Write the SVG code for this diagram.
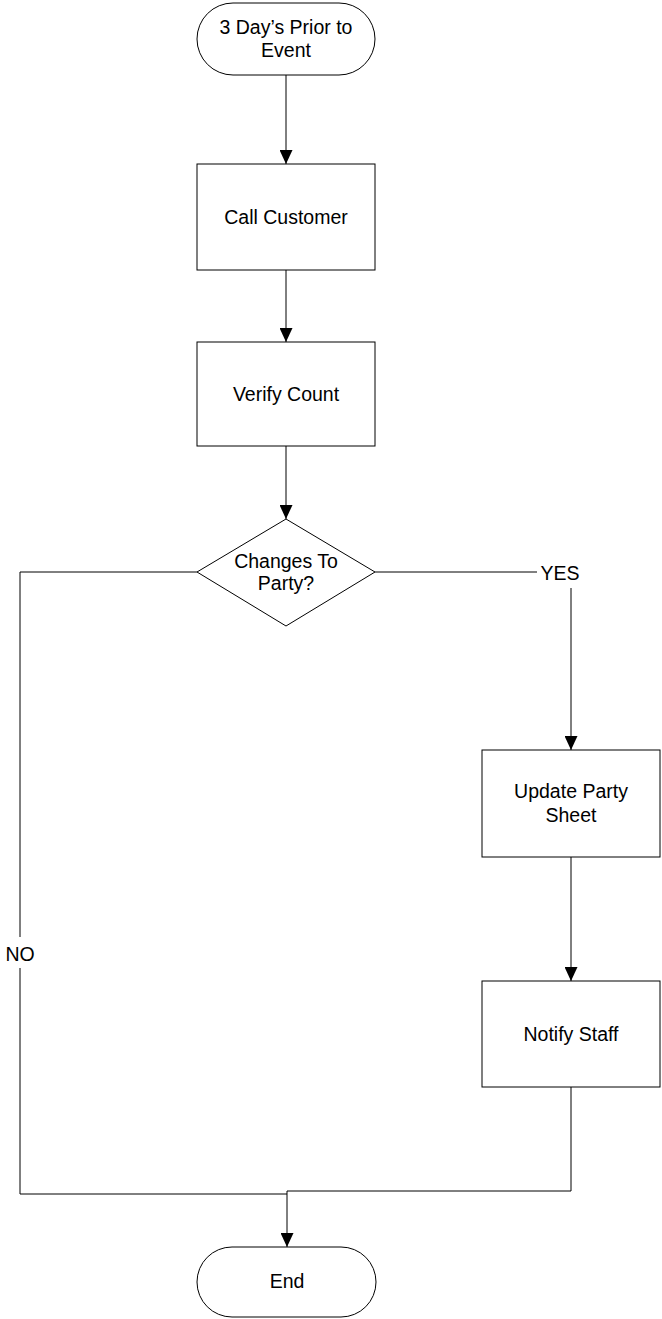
<svg xmlns="http://www.w3.org/2000/svg" width="662" height="1319" viewBox="0 0 662 1319">
  <style>
    .shape { fill: #ffffff; stroke: #000000; stroke-width: 1; }
    .label { font-family: "Liberation Sans", Arial, sans-serif; font-size: 19.5px; fill: #000000; text-anchor: middle; }
    .edge { fill: none; stroke: #000000; stroke-width: 1; }
  </style>
  <defs>
    <marker id="arrow" markerWidth="14" markerHeight="13" refX="14" refY="6.5" orient="auto" markerUnits="userSpaceOnUse" viewBox="0 0 14 13">
      <path d="M0,0 L14,6.5 L0,13 Z" fill="#000000"/>
    </marker>
  </defs>

  <!-- connectors -->
  <g id="connectors">
    <line class="edge" x1="286" y1="75" x2="286" y2="164" marker-end="url(#arrow)"/>
    <line class="edge" x1="286" y1="270" x2="286" y2="342" marker-end="url(#arrow)"/>
    <line class="edge" x1="286" y1="446" x2="286" y2="519" marker-end="url(#arrow)"/>
    <!-- YES branch -->
    <polyline class="edge" points="375,572 537,572"/>
    <line class="edge" x1="571" y1="588" x2="571" y2="750" marker-end="url(#arrow)"/>
    <line class="edge" x1="571" y1="857" x2="571" y2="981" marker-end="url(#arrow)"/>
    <polyline class="edge" points="571,1087 571,1191 287,1191"/>
    <!-- NO branch -->
    <polyline class="edge" points="197,572 20,572 20,1194 287,1194"/>
    <line class="edge" x1="287" y1="1191" x2="287" y2="1247" marker-end="url(#arrow)"/>
    <rect x="3" y="937" width="34" height="31" fill="#ffffff"/>
    <text class="label" x="20" y="961">NO</text>
    <text class="label" x="560" y="580">YES</text>
  </g>

  <g id="start">
    <rect class="shape" x="197" y="3" width="178" height="72" rx="36" ry="36"/>
    <text class="label" x="286" y="34">3 Day’s Prior to</text>
    <text class="label" x="286" y="57">Event</text>
  </g>

  <g id="call-customer">
    <rect class="shape" x="197" y="164" width="178" height="106"/>
    <text class="label" x="286" y="224">Call Customer</text>
  </g>

  <g id="verify-count">
    <rect class="shape" x="197" y="342" width="178" height="104"/>
    <text class="label" x="286" y="401">Verify Count</text>
  </g>

  <g id="changes-decision">
    <polygon class="shape" points="286,519 375,572 286,626 197,572"/>
    <text class="label" x="286" y="568">Changes To</text>
    <text class="label" x="286" y="590">Party?</text>
  </g>

  <g id="update-party-sheet">
    <rect class="shape" x="482" y="750" width="178" height="107"/>
    <text class="label" x="571" y="798">Update Party</text>
    <text class="label" x="571" y="822">Sheet</text>
  </g>

  <g id="notify-staff">
    <rect class="shape" x="482" y="981" width="178" height="106"/>
    <text class="label" x="571" y="1041">Notify Staff</text>
  </g>

  <g id="end">
    <rect class="shape" x="197" y="1247" width="179" height="70" rx="35" ry="35"/>
    <text class="label" x="287" y="1288">End</text>
  </g>
</svg>
